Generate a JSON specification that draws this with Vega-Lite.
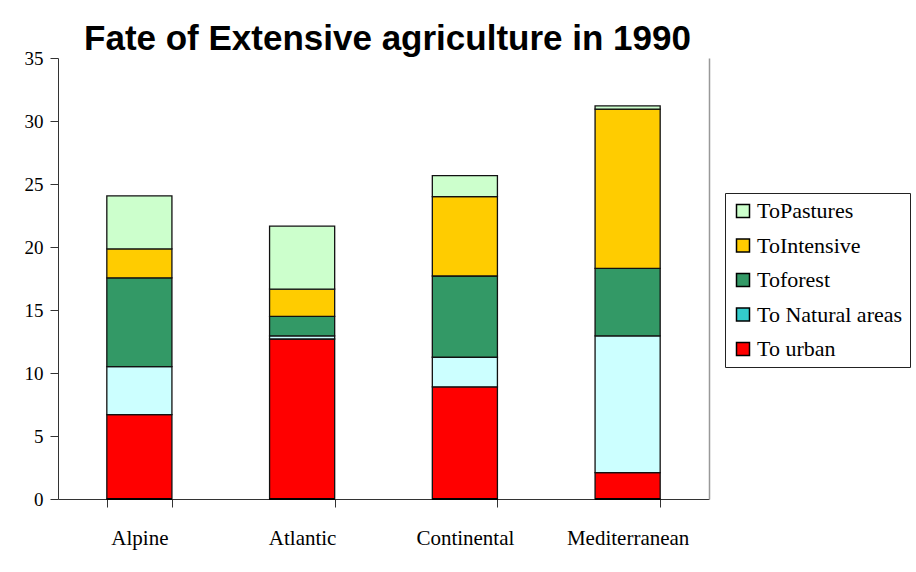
{
  "$schema": "https://vega.github.io/schema/vega-lite/v6.json",
  "width": 651,
  "height": 441,
  "autosize": "none",
  "padding": {"left": 58, "top": 58, "right": 207, "bottom": 73},
  "background": "white",
  "title": {
    "text": "Fate of Extensive agriculture in 1990",
    "font": "Liberation Sans",
    "fontSize": 35,
    "fontWeight": "bold",
    "color": "black",
    "anchor": "middle",
    "frame": "group",
    "baseline": "alphabetic",
    "dx": 4,
    "offset": -36
  },
  "data": {
    "values": [
      {"region": "Alpine", "fate": "To urban", "k": 1, "value": 6.7},
      {"region": "Alpine", "fate": "To Natural areas", "k": 2, "value": 3.8},
      {"region": "Alpine", "fate": "Toforest", "k": 3, "value": 7.05},
      {"region": "Alpine", "fate": "ToIntensive", "k": 4, "value": 2.3},
      {"region": "Alpine", "fate": "ToPastures", "k": 5, "value": 4.2},
      {"region": "Atlantic", "fate": "To urban", "k": 1, "value": 12.7},
      {"region": "Atlantic", "fate": "To Natural areas", "k": 2, "value": 0.25},
      {"region": "Atlantic", "fate": "Toforest", "k": 3, "value": 1.55},
      {"region": "Atlantic", "fate": "ToIntensive", "k": 4, "value": 2.15},
      {"region": "Atlantic", "fate": "ToPastures", "k": 5, "value": 5.0},
      {"region": "Continental", "fate": "To urban", "k": 1, "value": 8.9},
      {"region": "Continental", "fate": "To Natural areas", "k": 2, "value": 2.35},
      {"region": "Continental", "fate": "Toforest", "k": 3, "value": 6.45},
      {"region": "Continental", "fate": "ToIntensive", "k": 4, "value": 6.3},
      {"region": "Continental", "fate": "ToPastures", "k": 5, "value": 1.67},
      {"region": "Mediterranean", "fate": "To urban", "k": 1, "value": 2.1},
      {"region": "Mediterranean", "fate": "To Natural areas", "k": 2, "value": 10.85},
      {"region": "Mediterranean", "fate": "Toforest", "k": 3, "value": 5.35},
      {"region": "Mediterranean", "fate": "ToIntensive", "k": 4, "value": 12.65},
      {"region": "Mediterranean", "fate": "ToPastures", "k": 5, "value": 0.25}
    ]
  },
  "layer": [
    {
      "mark": {"type": "bar", "stroke": "#111", "strokeWidth": 1.3},
      "encoding": {
        "x": {
          "field": "region",
          "type": "nominal",
          "sort": ["Alpine", "Atlantic", "Continental", "Mediterranean"],
          "scale": {"paddingInner": 0.6, "paddingOuter": 0.3},
          "axis": {
            "title": null,
            "labelAngle": 0,
            "labelFont": "Liberation Serif",
            "labelFontSize": 21,
            "labelColor": "black",
            "labelPadding": 20,
            "tickSize": 8,
            "tickBand": "extent",
            "domainColor": "#333",
            "tickColor": "#333"
          }
        },
        "y": {
          "field": "value",
          "type": "quantitative",
          "stack": "zero",
          "scale": {"domain": [0, 35], "nice": false},
          "axis": {
            "title": null,
            "values": [0, 5, 10, 15, 20, 25, 30, 35],
            "grid": false,
            "labelFont": "Liberation Serif",
            "labelFontSize": 19,
            "labelColor": "black",
            "labelPadding": 7,
            "tickSize": 8,
            "domainColor": "#333",
            "tickColor": "#333"
          }
        },
        "fill": {
          "field": "fate",
          "type": "nominal",
          "scale": {
            "domain": ["To urban", "To Natural areas", "Toforest", "ToIntensive", "ToPastures"],
            "range": ["#FF0000", "#CCFFFF", "#339966", "#FFCC00", "#CCFFCC"]
          },
          "legend": null
        },
        "order": {"field": "k", "type": "quantitative"}
      }
    },
    {
      "mark": {"type": "bar", "stroke": "black", "strokeWidth": 1.2},
      "encoding": {
        "x": {"field": "region", "type": "nominal", "sort": ["Alpine", "Atlantic", "Continental", "Mediterranean"]},
        "y": {
          "datum": 0,
          "type": "quantitative",
          "axis": {
            "orient": "right",
            "title": null,
            "labels": false,
            "ticks": false,
            "grid": false,
            "domainColor": "#999",
            "domainWidth": 1.5
          }
        },
        "y2": {"datum": 0},
        "color": {
          "field": "fate",
          "type": "nominal",
          "scale": {
            "domain": ["ToPastures", "ToIntensive", "Toforest", "To Natural areas", "To urban"],
            "range": ["#CCFFCC", "#FFCC00", "#339966", "#33CCCC", "#FF0000"]
          },
          "legend": {
            "title": null,
            "orient": "none",
            "legendX": 667,
            "legendY": 135,
            "symbolType": "square",
            "symbolSize": 169,
            "symbolStrokeColor": "black",
            "symbolOpacity": 1,
            "labelFont": "Liberation Serif",
            "labelFontSize": 22,
            "labelColor": "black",
            "labelOffset": 3,
            "rowPadding": 12.5,
            "padding": 7,
            "strokeColor": "#222",
            "fillColor": "white"
          }
        }
      }
    }
  ],
  "resolve": {"axis": {"y": "independent"}},
  "config": {"view": {"stroke": null}}
}
